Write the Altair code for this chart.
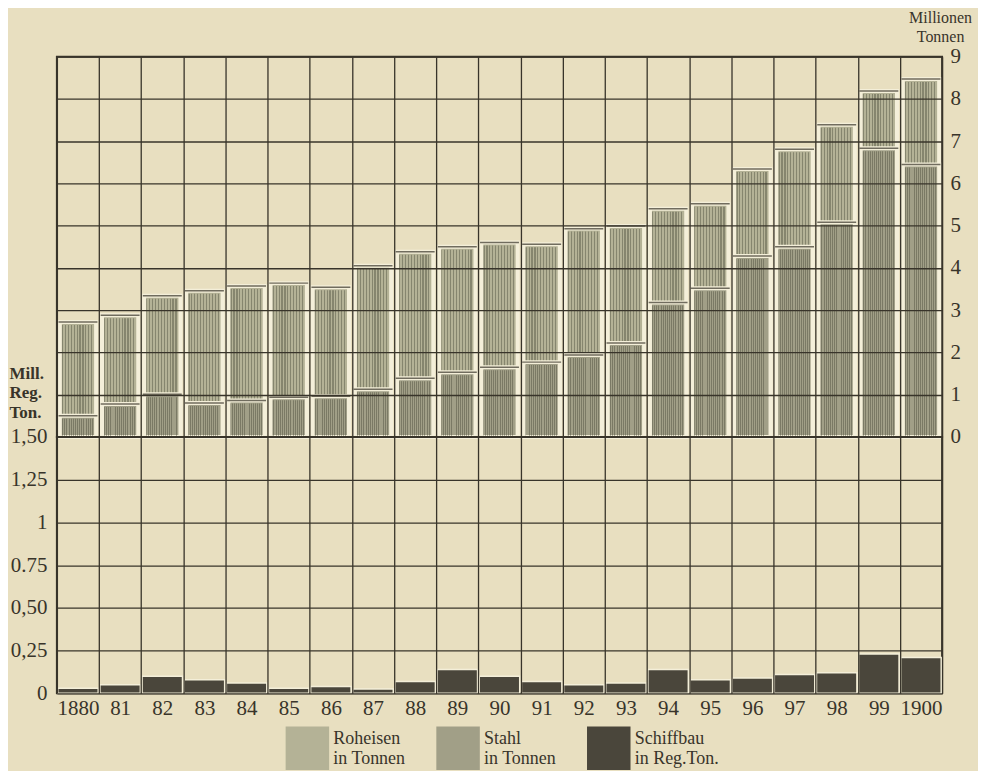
import altair as alt
import pandas as pd

# ---------------- data ----------------
YEARS = list(range(1880, 1901))
ROHEISEN = [2.72, 2.88, 3.34, 3.46, 3.57, 3.64, 3.54, 4.05, 4.38, 4.50, 4.60,
            4.56, 4.93, 4.99, 5.40, 5.52, 6.34, 6.81, 7.39, 8.19, 8.47]
STAHL = [0.50, 0.78, 1.01, 0.80, 0.86, 0.94, 0.96, 1.13, 1.39, 1.53, 1.65,
         1.77, 1.94, 2.22, 3.18, 3.52, 4.28, 4.50, 5.08, 6.83, 6.45]
SCHIFFBAU = [0.03, 0.05, 0.10, 0.08, 0.06, 0.03, 0.04, 0.025, 0.07, 0.14, 0.10,
             0.07, 0.05, 0.06, 0.14, 0.08, 0.09, 0.11, 0.12, 0.23, 0.21]
SERIES = ["Roheisen", "Stahl", "Schiffbau"]
LEGEND_SUB = ["in Tonnen", "in Tonnen", "in Reg.Ton."]
UPPER_TICKS = list(range(0, 10))
LOWER_TICKS = [0, 0.25, 0.5, 0.75, 1.0, 1.25, 1.5]
LOWER_TICK_LABELS = ["0", "0,25", "0,50", "0.75", "1", "1,25", "1,50"]

# ---------------- styles ----------------
BG = "#e8dfc0"
DARK = "#38342a"
PALE = "#f4efd9"
COLORS = ["#b4b296", "#a19f87", "#4a463b"]
FONT = "Liberation Serif"

up = pd.DataFrame({
    "Jahr": YEARS * 2,
    "Art": ["Roheisen"] * len(YEARS) + ["Stahl"] * len(YEARS),
    "Wert": ROHEISEN + STAHL,
})
low = pd.DataFrame({"Jahr": YEARS, "Art": ["Schiffbau"] * len(YEARS), "Wert": SCHIFFBAU})


def stripes(n, dark, frac):
    stops = []
    clear = "rgba(0,0,0,0)"
    for k in range(n):
        a, b, c = k / n, (k + frac) / n, (k + 1) / n
        stops += [{"offset": a, "color": dark}, {"offset": b, "color": dark},
                  {"offset": b, "color": clear}, {"offset": c, "color": clear}]
    return {"gradient": "linear", "x1": 0, "y1": 0, "x2": 1, "y2": 0, "stops": stops}


legend_expr = " : ".join(
    f"datum.label == '{s}' ? ['{s}', '{sub}']" for s, sub in zip(SERIES, LEGEND_SUB)
) + " : datum.label"

legend = alt.Legend(
    title=None, orient="none", legendX=229, legendY=671, direction="horizontal",
    symbolType="square", symbolSize=1900, symbolStrokeWidth=0, symbolOpacity=1,
    labelFont=FONT, labelFontSize=18, labelColor=DARK, labelExpr=legend_expr,
    labelLimit=0, labelOffset=4, columnPadding=30, labelBaseline="bottom",
)
color = alt.Color("Art:N", scale=alt.Scale(domain=SERIES, range=COLORS), legend=legend)

lower_expr = " : ".join(
    f"datum.value == {v} ? '{t}'" for v, t in zip(LOWER_TICKS, LOWER_TICK_LABELS)
) + " : ''"

xscale = alt.Scale(paddingInner=0, paddingOuter=0)
x_up = alt.X("Jahr:O", scale=xscale, axis=alt.Axis(
    labels=False, ticks=False, domain=False, grid=True, tickBand="extent",
    title=None, gridColor=DARK, gridWidth=1.3, gridOpacity=1, zindex=1))
x_low = alt.X("Jahr:O", scale=xscale, axis=alt.Axis(
    labels=True, ticks=False, domain=False, grid=True, tickBand="extent",
    title=None, gridColor=DARK, gridWidth=1.3, gridOpacity=1, zindex=1,
    labelAngle=0, labelFont=FONT, labelFontSize=21, labelColor=DARK, labelPadding=4,
    labelExpr="datum.value == 1880 || datum.value == 1900 ? datum.label : substring(datum.label, 2)"))

y_up = alt.Y("Wert:Q", stack=None, scale=alt.Scale(domain=[0, 9], nice=False), axis=alt.Axis(
    orient="right", values=UPPER_TICKS, grid=True, gridColor=DARK, gridWidth=1.3, gridOpacity=1,
    ticks=False, domain=False, labelFont=FONT, labelFontSize=21, labelColor=DARK,
    labelPadding=8, zindex=1, title=["Millionen", "Tonnen"], titleAngle=0,
    titleAlign="center", titleBaseline="top", titleX=-2, titleY=-47,
    titleFont=FONT, titleFontSize=16, titleFontWeight="normal", titleColor=DARK,
    titleLineHeight=19))
y_plain = alt.Y("Wert:Q", stack=None)

base_up = alt.Chart(up)
roh = base_up.transform_filter("datum.Art == 'Roheisen'")
sta = base_up.transform_filter("datum.Art == 'Stahl'")

roh_bar = roh.mark_bar(width=alt.RelativeBandSize(0.86), stroke=PALE, strokeWidth=4).encode(
    x=x_up, y=y_up, color=color)
roh_str = roh.mark_bar(width=alt.RelativeBandSize(0.76), yOffset=3, clip=True,
                       fill=stripes(11, "rgba(70,72,55,0.42)", 0.4)).encode(
    x=alt.X("Jahr:O"), y=y_plain)
sta_bar = sta.mark_bar(width=alt.RelativeBandSize(0.86), stroke=PALE, strokeWidth=4).encode(
    x=alt.X("Jahr:O"), y=y_plain, color=color)
sta_str = sta.mark_bar(width=alt.RelativeBandSize(0.76), yOffset=3, clip=True,
                       fill=stripes(17, "rgba(60,60,45,0.38)", 0.45)).encode(
    x=alt.X("Jahr:O"), y=y_plain)
tops = base_up.mark_tick(color=DARK, thickness=1.5, size=39).encode(
    x=alt.X("Jahr:O"), y=y_plain)

upper = alt.layer(roh_bar, roh_str, sta_bar, sta_str, tops).properties(width=887, height=381)

y_low = alt.Y("Wert:Q", scale=alt.Scale(domain=[0, 1.5], nice=False), axis=alt.Axis(
    orient="left", values=LOWER_TICKS, grid=True, gridColor=DARK, gridWidth=1.3, gridOpacity=1,
    ticks=False, domain=False, labelFont=FONT, labelFontSize=21, labelColor=DARK,
    labelPadding=10, labelExpr=lower_expr, zindex=1,
    title=["Mill.", "Reg.", "Ton."], titleAngle=0, titleAlign="left", titleBaseline="top",
    titleX=-48, titleY=-72, titleFont=FONT, titleFontSize=17, titleFontWeight="bold",
    titleColor=DARK, titleLineHeight=20))

lower = alt.Chart(low).mark_bar(width=alt.RelativeBandSize(0.96), stroke=PALE,
                                strokeWidth=1.5).encode(
    x=x_low, y=y_low, color=color).properties(width=887, height=257)

chart = alt.vconcat(upper, lower, spacing=0, bounds="flush").properties(
    background=BG, padding={"left": 0, "top": 0, "right": 5, "bottom": 0}
).configure_view(stroke=DARK, strokeWidth=2)

chart.save("out.html", embed_options={"renderer": "svg", "actions": False})
